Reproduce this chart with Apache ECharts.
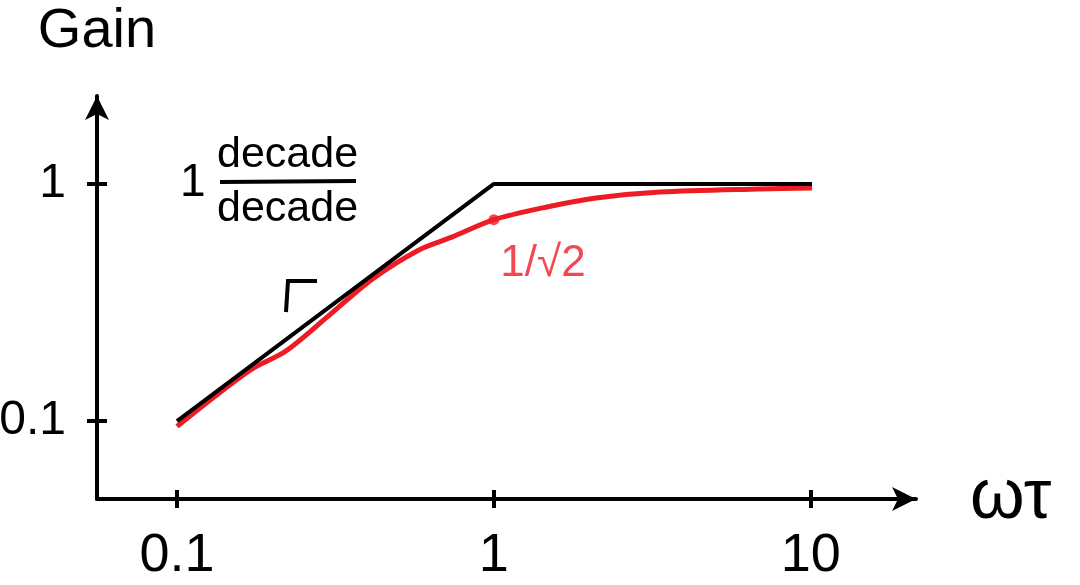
<!DOCTYPE html>
<html>
<head>
<meta charset="utf-8">
<title>Gain vs ωτ</title>
<script src="https://cdn.jsdelivr.net/npm/echarts@6/dist/echarts.min.js"></script>
<style>
  html, body { margin: 0; padding: 0; background: #fff; }
  #chart { width: 1080px; height: 585px; }
</style>
</head>
<body>
<div id="chart"></div>
<script>
// Tick positions and their labels
const xTicks = [0.1, 1, 10];
const xTickLabels = ['0.1', '1', '10'];
const yTicks = [0.1, 1];
const yTickLabels = ['0.1', '1'];

// Straight-line asymptotes: slope of 1 decade/decade, then flat at 1
const asymX = [0.1, 1, 10.1];
const asymY = [0.1, 1, 1];

// Actual gain curve
const gainX = [0.1, 0.17, 0.22, 0.3, 0.41, 0.58, 0.74, 1, 1.47, 2.1, 3.35, 6.9, 10.1];
const gainY = [0.095, 0.164, 0.197, 0.277, 0.394, 0.527, 0.598, 0.707, 0.8, 0.873, 0.925, 0.953, 0.962];

// Corner point marked on the gain curve
const cornerX = [1];
const cornerY = [0.707];
const cornerLabel = '1/√2';

const RED = '#ed1c24';
const FONT = '"Liberation Sans", "DejaVu Sans", sans-serif';

const xMin = 0.0559, xMax = 21.5;
const yMin = 0.0469, yMax = 2.35;

const labelMap = (vals, labels) => v => {
  const i = vals.findIndex(t => Math.abs(t - v) / t < 1e-6);
  return i >= 0 ? labels[i] : '';
};

const chart = echarts.init(document.getElementById('chart'));

const option = {
  backgroundColor: '#fff',
  animation: false,
  grid: { left: 97, right: 164, top: 96, bottom: 86, outerBoundsMode: 'none', containLabel: false },
  xAxis: [
    {
      type: 'log', min: xMin, max: xMax,
      name: 'ωτ', nameLocation: 'end', nameGap: 54,
      nameTextStyle: { fontFamily: FONT, fontSize: 70, color: '#000', verticalAlign: 'middle' },
      axisLine: { show: true, symbol: ['none', 'arrow'], symbolSize: [18, 24],
        lineStyle: { color: '#000', width: 4 } },
      axisTick: { show: true, customValues: xTicks, length: 9, lineStyle: { color: '#000', width: 4 } },
      axisLabel: { show: true, customValues: xTicks, margin: 30, fontFamily: FONT, fontSize: 54,
        color: '#000', formatter: labelMap(xTicks, xTickLabels) },
      splitLine: { show: false }
    },
    {
      type: 'log', min: xMin, max: xMax, position: 'bottom',
      axisLine: { show: false },
      axisTick: { show: true, inside: true, customValues: xTicks, length: 9, lineStyle: { color: '#000', width: 4 } },
      axisLabel: { show: false },
      splitLine: { show: false }
    }
  ],
  yAxis: [
    {
      type: 'log', min: yMin, max: yMax,
      name: 'Gain', nameLocation: 'end', nameGap: 36,
      nameTextStyle: { fontFamily: FONT, fontSize: 56, color: '#000', align: 'center' },
      axisLine: { show: true, symbol: ['none', 'arrow'], symbolSize: [18, 24],
        lineStyle: { color: '#000', width: 4 } },
      axisTick: { show: true, customValues: yTicks, length: 10, lineStyle: { color: '#000', width: 4 } },
      axisLabel: { show: true, customValues: yTicks, margin: 31, fontFamily: FONT, fontSize: 48,
        color: '#000', formatter: labelMap(yTicks, yTickLabels) },
      splitLine: { show: false }
    },
    {
      type: 'log', min: yMin, max: yMax, position: 'left',
      axisLine: { show: false },
      axisTick: { show: true, inside: true, customValues: yTicks, length: 10, lineStyle: { color: '#000', width: 4 } },
      axisLabel: { show: false },
      splitLine: { show: false }
    }
  ],
  series: [
    {
      name: 'asymptote', type: 'line',
      data: asymX.map((x, i) => [x, asymY[i]]),
      showSymbol: false, symbol: 'none',
      lineStyle: { color: '#000', width: 4 },
      z: 3
    },
    {
      name: 'gain', type: 'line', smooth: 0.3,
      data: gainX.map((x, i) => [x, gainY[i]]),
      showSymbol: false, symbol: 'none',
      lineStyle: { color: RED, width: 5 },
      z: 2
    },
    {
      name: 'corner', type: 'scatter',
      data: cornerX.map((x, i) => [x, cornerY[i]]),
      symbol: 'circle', symbolSize: 11,
      itemStyle: { color: RED },
      label: {
        show: true, formatter: cornerLabel, position: [12, 28],
        fontFamily: FONT, fontSize: 44, color: RED
      },
      z: 4
    }
  ],
  graphic: [
    // slope annotation "1 decade/decade"
    { type: 'text', left: 180, top: 160, style: { text: '1', font: '46px ' + FONT, fill: '#000' } },
    { type: 'text', left: 217, top: 134, style: { text: 'decade', font: '43px ' + FONT, fill: '#000' } },
    { type: 'line', shape: { x1: 220, y1: 182, x2: 356, y2: 181 }, style: { stroke: '#000', lineWidth: 4 } },
    { type: 'text', left: 217, top: 188, style: { text: 'decade', font: '43px ' + FONT, fill: '#000' } },
    // small corner stroke pointing at the asymptote
    { type: 'polyline', shape: { points: [[286, 312], [288, 281], [317, 281]] },
      style: { stroke: '#000', lineWidth: 4, fill: null } }
  ]
};

chart.setOption(option);
</script>
</body>
</html>
